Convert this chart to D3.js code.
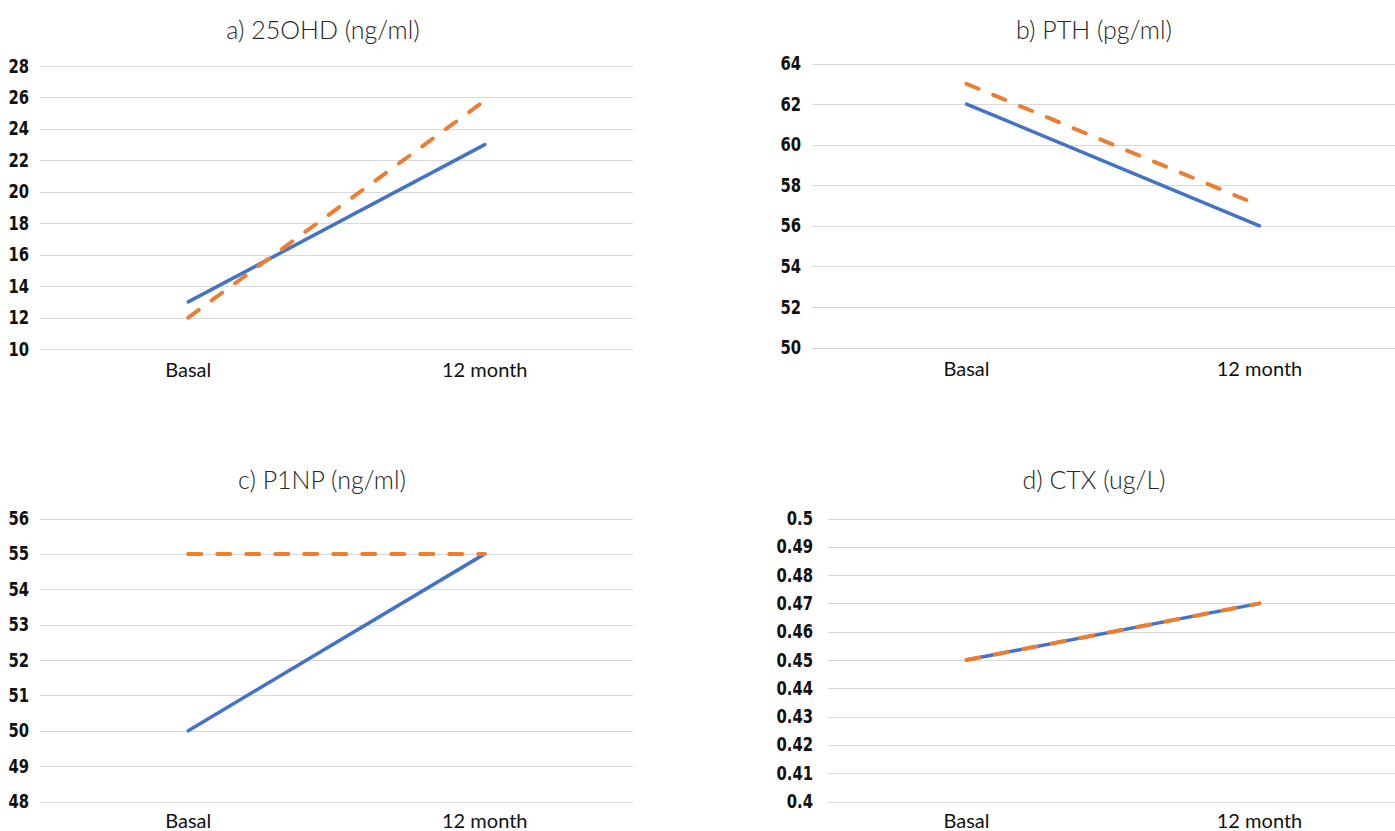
<!DOCTYPE html>
<html>
<head>
<meta charset="utf-8">
<script src="https://cdn.jsdelivr.net/npm/d3@7"></script>
<style>
  body { margin: 0; background: #fff; }
  svg { display: block; }
</style>
</head>
<body>
<div id="chart"></div>
<script>
// categories on the x axis
var categories = ["Basal", "12 month"];

// panel titles
var titles = ["a) 25OHD (ng/ml)", "b) PTH (pg/ml)", "c) P1NP (ng/ml)", "d) CTX (ug/L)"];

// series values (blue solid, orange dashed) per panel
var blueA = [13, 23],      orangeA = [12, 25.8];
var blueB = [62, 56],      orangeB = [63, 57];
var blueC = [50, 55],      orangeC = [55, 55];
var blueD = [0.45, 0.47],  orangeD = [0.45, 0.47];

// y tick labels per panel
var ticksA = [10, 12, 14, 16, 18, 20, 22, 24, 26, 28];
var ticksB = [50, 52, 54, 56, 58, 60, 62, 64];
var ticksC = [48, 49, 50, 51, 52, 53, 54, 55, 56];
var ticksD = [0.4, 0.41, 0.42, 0.43, 0.44, 0.45, 0.46, 0.47, 0.48, 0.49, 0.5];

var W = 1395, H = 831;
var blue = "#4472C4", orange = "#ED7D31";

var svg = d3.select("#chart")
  .append("svg")
  .attr("width", W)
  .attr("height", H);

// layout of each panel (pixel frame only)
var panels = [
  {title: titles[0], blue: blueA, orange: orangeA, ticks: ticksA,
   gx0: 40, gx1: 633, bx0: 40, bx1: 633, top: 66, bottom: 349, tx: 323, ty: 39, lx: 29},
  {title: titles[1], blue: blueB, orange: orangeB, ticks: ticksB,
   gx0: 812, gx1: 1410, bx0: 820, bx1: 1406, top: 63.5, bottom: 347.5, tx: 1094, ty: 39, lx: 801},
  {title: titles[2], blue: blueC, orange: orangeC, ticks: ticksC,
   gx0: 40, gx1: 633, bx0: 40, bx1: 633, top: 518.5, bottom: 801.5, tx: 322, ty: 489, lx: 29},
  {title: titles[3], blue: blueD, orange: orangeD, ticks: ticksD,
   gx0: 828, gx1: 1410, bx0: 820, bx1: 1406, top: 518.5, bottom: 801.5, tx: 1094, ty: 489, lx: 813}
];

panels.forEach(function(p) {
  var g = svg.append("g");

  var x = d3.scaleBand()
    .domain(categories)
    .range([p.bx0, p.bx1])
    .padding(0);

  var y = d3.scaleLinear()
    .domain(d3.extent(p.ticks))
    .range([p.bottom, p.top]);

  // title
  g.append("text")
    .attr("x", p.tx)
    .attr("y", p.ty)
    .attr("text-anchor", "middle")
    .style("font-family", "Lato, 'Open Sans', sans-serif")
    .style("font-weight", 300)
    .style("font-size", "25px")
    .style("fill", "#262626")
    .text(p.title);

  // gridlines
  g.append("g")
    .selectAll("line")
    .data(p.ticks)
    .enter().append("line")
    .attr("x1", p.gx0)
    .attr("x2", p.gx1)
    .attr("y1", function(d) { return Math.round(y(d)) + 0.5; })
    .attr("y2", function(d) { return Math.round(y(d)) + 0.5; })
    .attr("stroke", "#d9d9d9")
    .attr("stroke-width", 1.2);

  // y axis labels (condensed look)
  var yAxis = d3.axisLeft(y)
    .tickValues(p.ticks)
    .tickSize(0)
    .tickPadding(0)
    .tickFormat(function(d) { return d3.format("")(+d.toFixed(2)); });
  var ya = g.append("g")
    .attr("transform", "translate(" + p.lx + ",0)")
    .call(yAxis);
  ya.select(".domain").remove();
  ya.selectAll(".tick text")
    .attr("x", 0)
    .attr("dy", "0.32em")
    .attr("transform", "scale(0.78,1)")
    .style("font-family", "'DejaVu Sans', sans-serif")
    .style("font-weight", "bold")
    .style("font-size", "19px")
    .style("fill", "#111");

  // x axis labels
  var xAxis = d3.axisBottom(x).tickSize(0).tickPadding(0);
  var xa = g.append("g")
    .attr("transform", "translate(0," + (p.bottom + (p.bottom > 500 ? 26 : 28)) + ")")
    .call(xAxis);
  xa.select(".domain").remove();
  xa.selectAll("text")
    .attr("dy", 0)
    .style("font-family", "Lato, 'Open Sans', sans-serif")
    .style("font-size", "20px")
    .style("fill", "#111");

  var line = d3.line()
    .x(function(d, i) { return x(categories[i]) + x.bandwidth() / 2; })
    .y(function(d) { return y(d); });

  g.append("path")
    .datum(p.blue)
    .attr("d", line)
    .attr("fill", "none")
    .attr("stroke", blue)
    .attr("stroke-width", 3.5)
    .attr("stroke-linecap", "round");

  g.append("path")
    .datum(p.orange)
    .attr("d", line)
    .attr("fill", "none")
    .attr("stroke", orange)
    .attr("stroke-width", 4)
    .attr("stroke-linecap", "round")
    .attr("stroke-dasharray", "13,16");
});
</script>
</body>
</html>
